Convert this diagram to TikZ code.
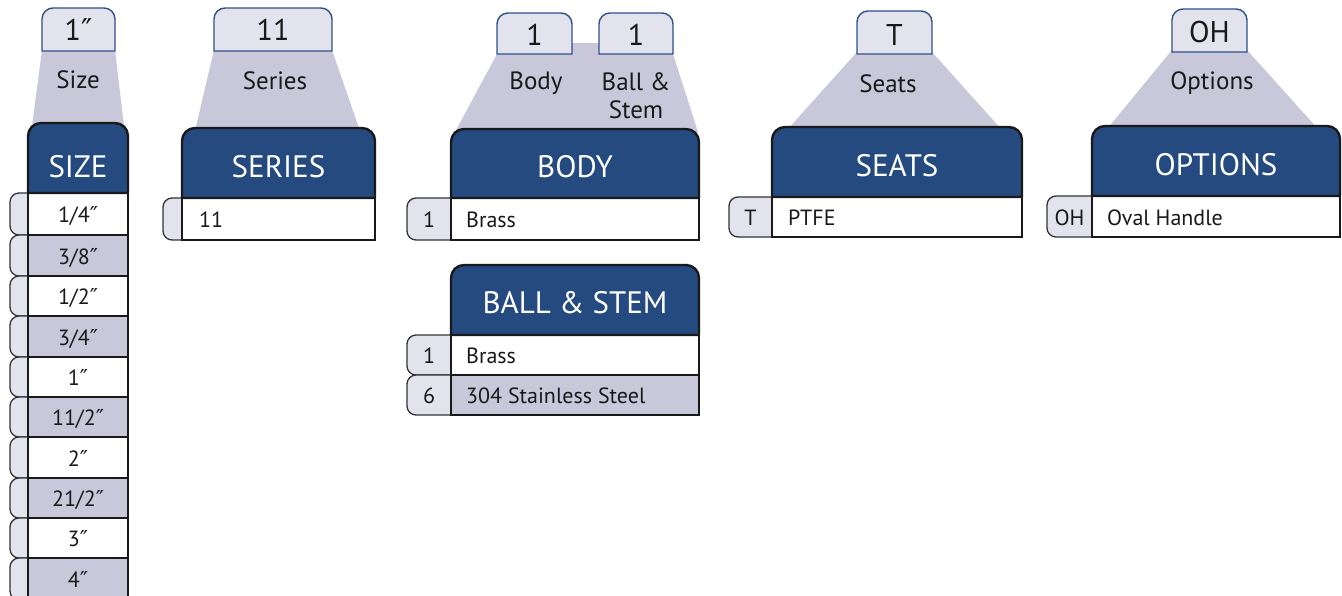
\documentclass[tikz,border=0pt]{standalone}
\usepackage{fontspec}
\setmainfont{PT Sans}
\newfontfamily\djv{DejaVu Sans}
\definecolor{navy}{RGB}{37,74,127}
\definecolor{lav}{RGB}{201,200,218}
\definecolor{tabfill}{RGB}{226,227,237}
\definecolor{tabline}{RGB}{46,80,136}
\definecolor{sideline}{RGB}{50,50,55}
\newcommand\dpr{{\djv ″}}
\tikzset{
  tabtxt/.style={anchor=base,inner sep=0pt,font=\fontsize{30}{32}\selectfont,text=black!90},
  labtxt/.style={anchor=base,inner sep=0pt,font=\fontsize{25}{27}\selectfont,text=black!90},
  headtxt/.style={anchor=base,inner sep=0pt,font=\fontsize{31}{33}\selectfont,text=white},
  rowtxt/.style={inner sep=0pt,font=\fontsize{22}{24}\selectfont,text=black!90},
  trap/.style={fill=lav},
  toptabstyle/.style={fill=tabfill,draw=tabline,line width=1.4pt},
  headstyle/.style={fill=navy,draw=black!90,line width=2.4pt,line join=round},
  rowstyle/.style={draw=black!90,line width=2pt},
  sidestyle/.style={fill=tabfill,draw=sideline,line width=1.3pt}
}
% name x1 y1 x2 y2 text baseline
\newcommand\TopTab[7]{%
  \draw[toptabstyle] (#2,#5) [rounded corners=11pt] -- (#2,#3) -- (#4,#3) [sharp corners] -- (#4,#5) -- cycle;
  \node[tabtxt] (#1) at ({(#2+#4)/2},#7) {#6};}
\newcommand\Head[7]{%
  \draw[headstyle] (#2,#5) [rounded corners=13pt] -- (#2,#3) -- (#4,#3) [sharp corners] -- (#4,#5) -- cycle;
  \node[headtxt] (#1) at ({(#2+#4)/2},#7) {#6};}
% name x1 y1 x2 y2 fill textx anchor text
\newcommand\Row[9]{%
  \draw[rowstyle,fill=#6] (#2,#3) rectangle (#4,#5);
  \node[rowtxt,anchor=#8] (#1) at (#7,{(#3+#5)/2+8.5}) {#9};}
% name x1 y1 x2 y2 text
\newcommand\Side[6]{%
  \draw[sidestyle] (#4,#3) [rounded corners=9pt] -- (#2,#3) -- (#2,#5) [sharp corners] -- (#4,#5);
  \node[rowtxt,anchor=base] (#1) at ({(#2+#4)/2},{(#3+#5)/2+8.5}) {#6};}
\begin{document}
\begin{tikzpicture}[x=1pt,y=-1pt]
\useasboundingbox (0,0) rectangle (1342,595);
% ---------- trapezoids
\fill[trap] (42,50) -- (115,50) -- (124,126) -- (32,126) -- cycle;
\fill[trap] (214,50) -- (332,50) -- (360,131) -- (195,131) -- cycle;
\fill[trap] (497,54) -- (497,43) -- (673,43) -- (673,54) -- (698,132) -- (455,132) -- cycle;
\fill[trap] (857,52) -- (932,52) -- (1002,130) -- (787,130) -- cycle;
\fill[trap] (1172,50) -- (1247,50) -- (1318,129) -- (1107,129) -- cycle;
% ---------- top tabs
\TopTab{tSize}{42}{8}{115}{51}{1\dpr}{40}
\TopTab{tSeries}{214}{8}{332}{51}{11}{40}
\TopTab{tBody}{497}{13}{572}{54}{1}{45}
\TopTab{tBall}{599}{13}{673}{54}{1}{45}
\TopTab{tSeats}{857}{11}{932}{54}{T}{45}
\TopTab{tOpt}{1172}{9}{1247}{52}{OH}{42}
% ---------- labels
\node[labtxt] (lSize) at (78,88) {Size};
\node[labtxt] (lSeries) at (275,89) {Series};
\node[labtxt] (lBody) at (536,89) {Body};
\node[labtxt] (lBall) at (636,90) {Ball \&};
\node[labtxt] (lStem) at (636,118) {Stem};
\node[labtxt] (lSeats) at (888,92) {Seats};
\node[labtxt] (lOpt) at (1212,89) {Options};
% ---------- SIZE column
\Side{s1}{10}{193}{29}{235}{}
\Side{s2}{10}{235}{29}{276}{}
\Side{s3}{10}{276}{29}{316}{}
\Side{s4}{10}{316}{29}{357}{}
\Side{s5}{10}{357}{29}{397}{}
\Side{s6}{10}{397}{29}{437}{}
\Side{s7}{10}{437}{29}{478}{}
\Side{s8}{10}{478}{29}{518}{}
\Side{s9}{10}{518}{29}{558}{}
\Side{s10}{10}{558}{29}{600}{}
\Row{r1}{28}{193}{128}{235}{white}{78}{base}{1/4\dpr}
\Row{r2}{28}{235}{128}{276}{lav}{78}{base}{3/8\dpr}
\Row{r3}{28}{276}{128}{316}{white}{78}{base}{1/2\dpr}
\Row{r4}{28}{316}{128}{357}{lav}{78}{base}{3/4\dpr}
\Row{r5}{28}{357}{128}{397}{white}{78}{base}{1\dpr}
\Row{r6}{28}{397}{128}{437}{lav}{78}{base}{11/2\dpr}
\Row{r7}{28}{437}{128}{478}{white}{78}{base}{2\dpr}
\Row{r8}{28}{478}{128}{518}{lav}{78}{base}{21/2\dpr}
\Row{r9}{28}{518}{128}{558}{white}{78}{base}{3\dpr}
\Row{r10}{28}{558}{128}{600}{lav}{78}{base}{4\dpr}
\Head{hSize}{28}{123}{128}{193}{SIZE}{177}
% ---------- SERIES
\Side{sSer}{163}{198}{182}{240}{}
\Row{rSer}{182}{198}{375}{240}{white}{199}{base west}{11}
\Head{hSeries}{182}{128}{375}{198}{SERIES}{177}
% ---------- BODY
\Side{sBody}{407}{198}{451}{240}{1}
\Row{rBody}{451}{198}{699}{240}{white}{466}{base west}{Brass}
\Head{hBody}{451}{129}{699}{198}{BODY}{177}
% ---------- BALL & STEM
\Side{sB1}{407}{335}{451}{375}{1}
\Side{sB2}{407}{375}{451}{415}{6}
\Row{rB1}{451}{335}{699}{375}{white}{466}{base west}{Brass}
\Row{rB2}{451}{375}{699}{415}{lav}{466}{base west}{304 Stainless Steel}
\Head{hBall}{451}{265}{699}{335}{BALL \& STEM}{313}
% ---------- SEATS
\Side{sSeat}{729}{197}{772}{237}{T}
\Row{rSeat}{772}{197}{1022}{237}{white}{788}{base west}{PTFE}
\Head{hSeats}{772}{127}{1022}{197}{SEATS}{176}
% ---------- OPTIONS
\Side{sOpt}{1047}{196}{1092}{237}{OH}
\Row{rOpt}{1092}{196}{1340}{237}{white}{1107}{base west}{Oval Handle}
\Head{hOpt}{1092}{126}{1340}{196}{OPTIONS}{175}
\end{tikzpicture}
\end{document}
